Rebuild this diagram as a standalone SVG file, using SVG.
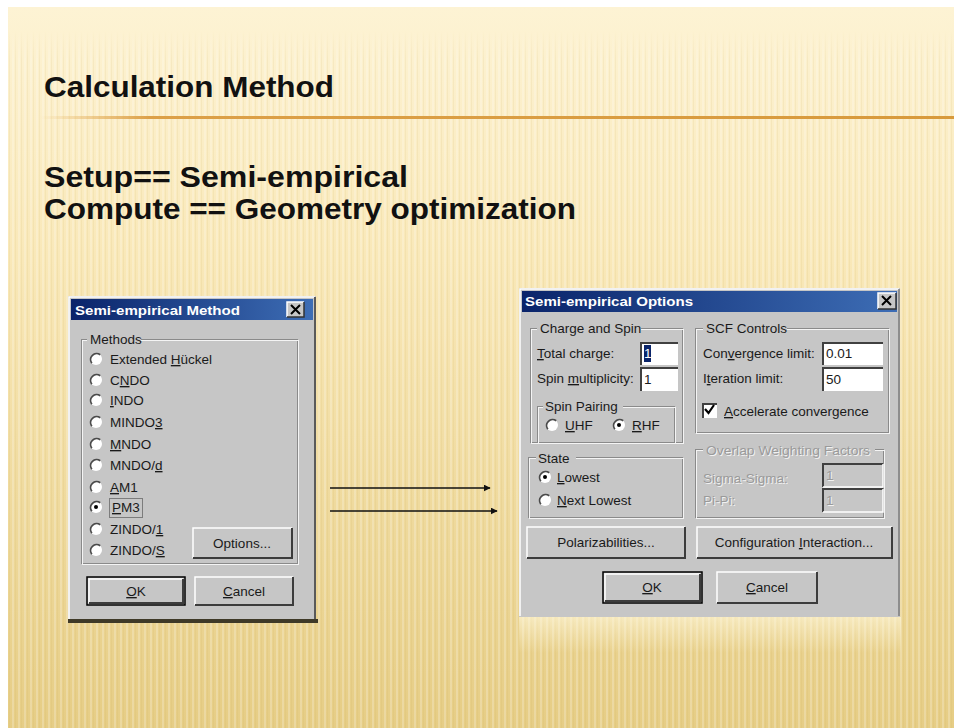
<svg xmlns="http://www.w3.org/2000/svg" width="954" height="728" viewBox="0 0 954 728">
<defs>
<linearGradient id="bg" x1="0" y1="0" x2="0" y2="1">
<stop offset="0" stop-color="#FDF3D4"/>
<stop offset="0.35" stop-color="#F9E8B8"/>
<stop offset="1" stop-color="#E6CD85"/>
</linearGradient>
<linearGradient id="tb" x1="0" y1="0" x2="1" y2="0">
<stop offset="0" stop-color="#0A246A"/>
<stop offset="1" stop-color="#3D6DB5"/>
</linearGradient>
<linearGradient id="rule" x1="0" y1="0" x2="1" y2="0">
<stop offset="0" stop-color="#E3A84A" stop-opacity="0"/>
<stop offset="0.12" stop-color="#DCA048"/>
<stop offset="1" stop-color="#D89A3C"/>
</linearGradient>
<linearGradient id="glow" x1="0" y1="0" x2="0" y2="1">
<stop offset="0" stop-color="#FFF8DC" stop-opacity="0.6"/>
<stop offset="1" stop-color="#FFF8DC" stop-opacity="0"/>
</linearGradient>
<pattern id="stripes" width="6" height="10" patternUnits="userSpaceOnUse">
<rect x="0" y="0" width="2" height="10" fill="#ffffff" opacity="0.22"/>
<rect x="3" y="0" width="1" height="10" fill="#c9a650" opacity="0.10"/>
</pattern>
<linearGradient id="fadeTop" x1="0" y1="0" x2="0" y2="1">
<stop offset="0" stop-color="#fff" stop-opacity="0"/>
<stop offset="1" stop-color="#fff" stop-opacity="1"/>
</linearGradient>
<mask id="stripeMask">
<rect x="0" y="30" width="954" height="30" fill="url(#fadeTop)"/>
<rect x="0" y="60" width="954" height="668" fill="#fff"/>
</mask>
<symbol id="rb" viewBox="-7 -7 14 14" width="14" height="14">
<circle r="6" fill="#ffffff"/>
<path d="M4.2,-4.2 A6,6 0 0 0 -4.2,4.2" stroke="#4a4a4a" stroke-width="1.8" fill="none"/>
</symbol>
<symbol id="rbOn" viewBox="-7 -7 14 14" width="14" height="14">
<circle r="6" fill="#ffffff"/>
<path d="M4.2,-4.2 A6,6 0 0 0 -4.2,4.2" stroke="#4a4a4a" stroke-width="1.8" fill="none"/>
<circle r="2" fill="#000"/>
</symbol>
<marker id="ah" viewBox="0 0 10 10" refX="9" refY="5" markerWidth="7" markerHeight="7" markerUnits="userSpaceOnUse" orient="auto">
<path d="M0,0 L10,5 L0,10 z" fill="#111"/>
</marker>
</defs>
<style>
.title{font-family:"Liberation Sans",Arial,sans-serif;font-weight:bold;fill:#111}
.ui{font-family:"Liberation Sans",Arial,sans-serif;font-size:13.5px;fill:#1a1a1a}
.c{text-anchor:middle}
.dis{fill:#9a9a9a}
.disw{fill:#f2f2f2}
.tbt{font-family:"Liberation Sans",Arial,sans-serif;font-size:13px;font-weight:bold;fill:#fff}
.face{fill:#C6C6C6}
.hl{stroke:#ffffff;stroke-width:1.5;fill:none}
.sh{stroke:#3c3c3c;stroke-width:2;fill:none}
.grp1{stroke:#8a8a8a;stroke-width:1;fill:none}
.grp2{stroke:#f4f4f4;stroke-width:1;fill:none}
.inp{fill:#ffffff}
.inpd{fill:#C6C6C6}
.sunk{stroke:#404040;stroke-width:2;fill:none}
.u{text-decoration:underline}
.conn{stroke:#111;stroke-width:1.6;fill:none}
</style>

<!-- background -->
<rect x="0" y="0" width="954" height="728" fill="#ffffff"/>
<rect x="8" y="7" width="946" height="721" fill="url(#bg)"/>
<rect x="8" y="7" width="946" height="721" fill="url(#stripes)" mask="url(#stripeMask)"/>

<!-- heading -->
<text class="title" x="44" y="97" font-size="30" textLength="290" lengthAdjust="spacingAndGlyphs">Calculation Method</text>
<rect x="40" y="116" width="914" height="3" fill="url(#rule)"/>
<text class="title" x="44" y="187" font-size="30" textLength="364" lengthAdjust="spacingAndGlyphs">Setup== Semi-empirical</text>
<text class="title" x="44" y="219" font-size="30" textLength="532" lengthAdjust="spacingAndGlyphs">Compute == Geometry optimization</text>

<!-- Left dialog -->
<g id="dialog-method">
<rect class="face" x="68" y="296" width="248" height="325"/>
<path class="hl" d="M69,620 V297 H315"/>
<path stroke="#5a5a5a" stroke-width="2" fill="none" d="M315,297 V620"/>
<rect x="68" y="619" width="250" height="4" fill="#3f3a28"/>
<rect x="71" y="299" width="242" height="21" fill="url(#tb)"/>
<text class="tbt" x="75" y="315" textLength="165" lengthAdjust="spacingAndGlyphs">Semi-empirical Method</text>
<rect class="face" x="287" y="302" width="17" height="15"/>
<path class="hl" d="M287,317 V302 H304" stroke-width="1"/>
<path stroke="#333" stroke-width="1.5" fill="none" d="M287,317 H304 V302"/>
<path stroke="#000" stroke-width="2" d="M291,305 L300,314 M300,305 L291,314"/>

<rect class="grp1" x="81.5" y="339.5" width="216" height="224"/>
<rect class="grp2" x="82.5" y="340.5" width="216" height="224"/>
<rect class="face" x="87" y="332" width="54" height="14"/>
<text class="ui" x="90" y="344">Methods</text>

<use href="#rb" x="89" y="352"/>
<text class="ui" x="110" y="364">Extended <tspan class="u">H</tspan>ückel</text>
<use href="#rb" x="89" y="373"/>
<text class="ui" x="110" y="385">C<tspan class="u">N</tspan>DO</text>
<use href="#rb" x="89" y="393"/>
<text class="ui" x="110" y="405"><tspan class="u">I</tspan>NDO</text>
<use href="#rb" x="89" y="415"/>
<text class="ui" x="110" y="427">MINDO<tspan class="u">3</tspan></text>
<use href="#rb" x="89" y="437"/>
<text class="ui" x="110" y="449"><tspan class="u">M</tspan>NDO</text>
<use href="#rb" x="89" y="458"/>
<text class="ui" x="110" y="470">MNDO/<tspan class="u">d</tspan></text>
<use href="#rb" x="89" y="480"/>
<text class="ui" x="110" y="492"><tspan class="u">A</tspan>M1</text>
<use href="#rbOn" x="89" y="500"/>
<rect x="109.5" y="498.5" width="33" height="19" fill="none" stroke="#333" stroke-width="1" stroke-dasharray="1,1"/>
<text class="ui" x="112" y="512"><tspan class="u">P</tspan>M3</text>
<use href="#rb" x="89" y="522"/>
<text class="ui" x="110" y="534">ZINDO/<tspan class="u">1</tspan></text>
<use href="#rb" x="89" y="543"/>
<text class="ui" x="110" y="555">ZINDO/<tspan class="u">S</tspan></text>

<rect class="face" x="193" y="528" width="99" height="30"/>
<path class="hl" d="M193,558 V528 H292"/>
<path class="sh" d="M193,558 H292 V528"/>
<text class="ui c" x="242" y="548">Options...</text>

<rect class="face" x="87" y="577" width="98" height="28" stroke="#000" stroke-width="1.5"/>
<path class="hl" d="M89,603 V579 H183"/>
<path class="sh" d="M89,603 H183 V579"/>
<text class="ui c" x="136" y="596"><tspan class="u">O</tspan>K</text>

<rect class="face" x="195" y="577" width="98" height="28"/>
<path class="hl" d="M195,605 V577 H293"/>
<path class="sh" d="M195,605 H293 V577"/>
<text class="ui c" x="244" y="596"><tspan class="u">C</tspan>ancel</text>
</g>

<!-- Right dialog -->
<g id="dialog-options">
<rect x="519" y="617" width="382" height="36" fill="url(#glow)"/>
<rect class="face" x="519" y="288" width="381" height="329"/>
<path class="hl" d="M520,616 V289 H899"/>
<path stroke="#7a7a7a" stroke-width="1.5" fill="none" d="M899,289 V616"/>
<rect x="522" y="291" width="375" height="21" fill="url(#tb)"/>
<text class="tbt" x="525" y="306" textLength="168" lengthAdjust="spacingAndGlyphs">Semi-empirical Options</text>
<rect class="face" x="878" y="293" width="18" height="16"/>
<path class="hl" d="M878,309 V293 H896" stroke-width="1"/>
<path stroke="#333" stroke-width="1.5" fill="none" d="M878,309 H896 V293"/>
<path stroke="#000" stroke-width="2" d="M882,296 L891,305 M891,296 L882,305"/>

<!-- Charge and Spin -->
<rect class="grp1" x="530.5" y="328.5" width="152" height="114"/>
<rect class="grp2" x="531.5" y="329.5" width="152" height="114"/>
<rect class="face" x="537" y="321" width="104" height="14"/>
<text class="ui" x="540" y="333">Charge and Spin</text>
<text class="ui" x="537" y="358"><tspan class="u">T</tspan>otal charge:</text>
<rect class="inp" x="640" y="342" width="38" height="23"/>
<path class="sunk" d="M641,365 V343 H678"/>
<rect x="644" y="345" width="7" height="17" fill="#0A246A"/>
<text class="ui" x="644" y="358" style="fill:#fff">1</text>
<text class="ui" x="537" y="383">Spin <tspan class="u">m</tspan>ultiplicity:</text>
<rect class="inp" x="640" y="367" width="38" height="24"/>
<path class="sunk" d="M641,391 V368 H678"/>
<text class="ui" x="644" y="384">1</text>

<rect class="grp1" x="537.5" y="406.5" width="137" height="36"/>
<rect class="grp2" x="538.5" y="407.5" width="137" height="36"/>
<rect class="face" x="543" y="399" width="80" height="14"/>
<text class="ui" x="545" y="411">Spin Pairing</text>
<use href="#rb" x="545" y="418"/>
<text class="ui" x="565" y="430"><tspan class="u">U</tspan>HF</text>
<use href="#rbOn" x="612" y="418"/>
<text class="ui" x="632" y="430"><tspan class="u">R</tspan>HF</text>

<!-- State -->
<rect class="grp1" x="528.5" y="457.5" width="154" height="60"/>
<rect class="grp2" x="529.5" y="458.5" width="154" height="60"/>
<rect class="face" x="536" y="450" width="40" height="14"/>
<text class="ui" x="538" y="463">State</text>
<use href="#rbOn" x="538" y="470"/>
<text class="ui" x="557" y="482"><tspan class="u">L</tspan>owest</text>
<use href="#rb" x="538" y="493"/>
<text class="ui" x="557" y="505"><tspan class="u">N</tspan>ext Lowest</text>

<!-- SCF Controls -->
<rect class="grp1" x="695.5" y="328.5" width="193" height="104"/>
<rect class="grp2" x="696.5" y="329.5" width="193" height="104"/>
<rect class="face" x="703" y="321" width="84" height="14"/>
<text class="ui" x="706" y="333">SCF Controls</text>
<text class="ui" x="703" y="358">Con<tspan class="u">v</tspan>ergence limit:</text>
<rect class="inp" x="822" y="342" width="61" height="23"/>
<path class="sunk" d="M823,365 V343 H883"/>
<text class="ui" x="826" y="358">0.01</text>
<text class="ui" x="703" y="383">I<tspan class="u">t</tspan>eration limit:</text>
<rect class="inp" x="822" y="367" width="61" height="24"/>
<path class="sunk" d="M823,391 V368 H883"/>
<text class="ui" x="826" y="384">50</text>
<rect class="inp" x="702" y="403" width="15" height="15"/>
<path class="sunk" d="M703,418 V404 H717"/>
<path d="M705,409 L708.5,413 L714,405" stroke="#000" stroke-width="2.2" fill="none"/>
<text class="ui" x="724" y="416"><tspan class="u">A</tspan>ccelerate convergence</text>

<!-- Overlap Weighting Factors (disabled) -->
<rect class="grp1" x="695.5" y="449.5" width="188" height="68"/>
<rect class="grp2" x="696.5" y="450.5" width="188" height="68"/>
<rect class="face" x="703" y="442" width="172" height="14"/>
<text class="ui disw" x="707" y="456" textLength="164" lengthAdjust="spacingAndGlyphs">Overlap Weighting Factors</text>
<text class="ui dis" x="706" y="455" textLength="164" lengthAdjust="spacingAndGlyphs">Overlap Weighting Factors</text>
<text class="ui disw" x="704" y="484">Sigma-Sigma:</text>
<text class="ui dis" x="703" y="483">Sigma-Sigma:</text>
<rect class="inpd" x="822" y="463" width="61" height="24"/>
<path class="sunk" d="M823,487 V464 H883" stroke="#505050"/>
<path class="hl" d="M823,487 H883 V464"/>
<text class="ui disw" x="827" y="481">1</text>
<text class="ui dis" x="826" y="480">1</text>
<text class="ui disw" x="704" y="506">Pi-Pi:</text>
<text class="ui dis" x="703" y="505">Pi-Pi:</text>
<rect class="inpd" x="822" y="488" width="61" height="24"/>
<path class="sunk" d="M823,512 V489 H883" stroke="#505050"/>
<path class="hl" d="M823,512 H883 V489"/>
<text class="ui disw" x="827" y="506">1</text>
<text class="ui dis" x="826" y="505">1</text>

<!-- Buttons -->
<rect class="face" x="527" y="527" width="158" height="31"/>
<path class="hl" d="M527,558 V527 H685"/>
<path class="sh" d="M527,558 H685 V527"/>
<text class="ui c" x="606" y="547">Polarizabilities...</text>

<rect class="face" x="697" y="527" width="195" height="31"/>
<path class="hl" d="M697,558 V527 H892"/>
<path class="sh" d="M697,558 H892 V527"/>
<text class="ui c" x="794" y="547">Configuration <tspan class="u">I</tspan>nteraction...</text>

<rect class="face" x="603" y="572" width="99" height="31" stroke="#000" stroke-width="1.5"/>
<path class="hl" d="M605,601 V574 H700"/>
<path class="sh" d="M605,601 H700 V574"/>
<text class="ui c" x="652" y="592"><tspan class="u">O</tspan>K</text>

<rect class="face" x="717" y="572" width="100" height="31"/>
<path class="hl" d="M717,603 V572 H817"/>
<path class="sh" d="M717,603 H817 V572"/>
<text class="ui c" x="767" y="592"><tspan class="u">C</tspan>ancel</text>
</g>

<!-- connectors -->
<g id="connectors">
<line class="conn" x1="330" y1="488" x2="490" y2="488" marker-end="url(#ah)"/>
<line class="conn" x1="330" y1="511" x2="497" y2="511" marker-end="url(#ah)"/>
</g>
</svg>
